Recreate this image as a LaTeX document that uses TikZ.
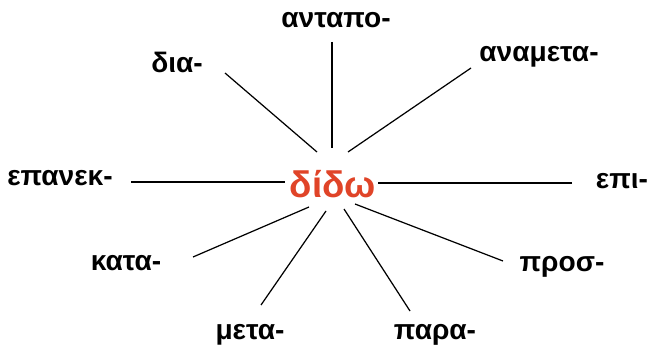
\documentclass[tikz,border=0pt]{standalone}
\usepackage{fontspec}
\setmainfont{Liberation Sans}
\usetikzlibrary{positioning}
\definecolor{rootred}{HTML}{E04428}
\tikzset{
  pref/.style={font=\fontsize{16}{18}\selectfont\bfseries, inner sep=0pt, anchor=base},
  root/.style={font=\fontsize{21}{24}\selectfont\bfseries, text=rootred, inner sep=0pt, anchor=base},
  spoke/.style={line width=0.7pt}
}

\begin{document}
\begin{tikzpicture}[x=0.02cm, y=-0.02cm]
\useasboundingbox (0,0) rectangle (649,348);
\node[root] (didw) at (333,197) {δίδω};
\node[pref] (antapo) at (336,28) {ανταπο-};
\node[pref] (dia) at (177,72) {δια-};
\node[pref] (anameta) at (539,62) {αναμετα-};
\node[pref] (epanek) at (60,185) {επανεκ-};
\node[pref] (epi) at (622,188) {επι-};
\node[pref] (kata) at (126,270) {κατα-};
\node[pref] (pros) at (562,271) {προσ-};
\node[pref] (meta) at (250,339) {μετα-};
\node[pref] (para) at (435,339) {παρα-};
% spoke ends
\coordinate (antapo-o) at (332,42);   \coordinate (antapo-i) at (332,148);
\coordinate (dia-o) at (225,73);      \coordinate (dia-i) at (317,152);
\coordinate (anameta-o) at (471,68);  \coordinate (anameta-i) at (348,152);
\coordinate (epanek-o) at (131,182);  \coordinate (epanek-i) at (285,182);
\coordinate (epi-o) at (572,183);     \coordinate (epi-i) at (378,183);
\coordinate (kata-o) at (193,257);    \coordinate (kata-i) at (309,207);
\coordinate (pros-o) at (503,261);    \coordinate (pros-i) at (355,204);
\coordinate (meta-o) at (261,305);    \coordinate (meta-i) at (326,211);
\coordinate (para-o) at (410,311);    \coordinate (para-i) at (344,209);
\foreach \s in {antapo,dia,anameta,epanek,epi,kata,pros,meta,para}
  \draw[spoke] (\s-o) -- (\s-i);
\end{tikzpicture}
\end{document}
